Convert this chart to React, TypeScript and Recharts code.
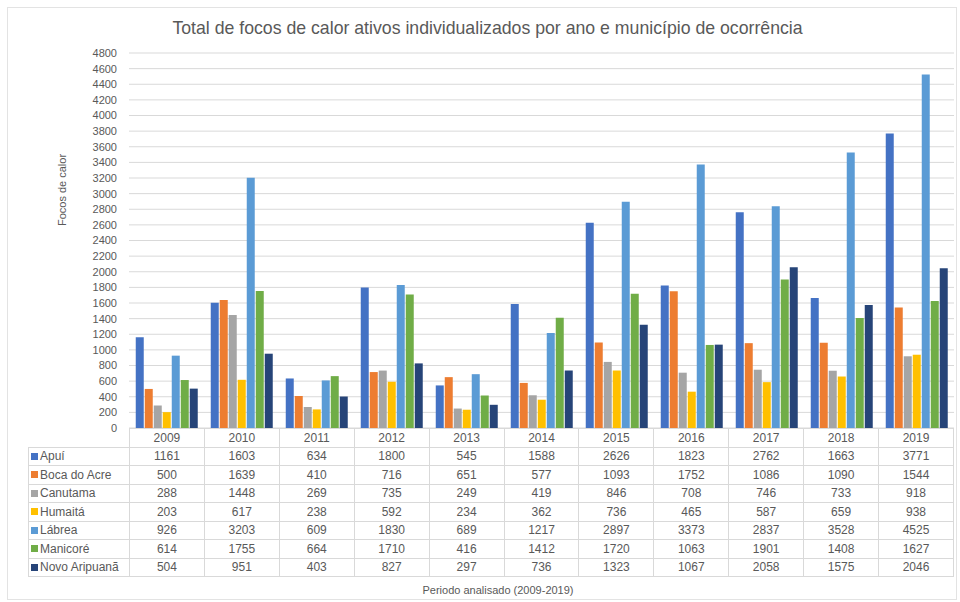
import React from "react";
import { BarChart, Bar, XAxis, YAxis, CartesianGrid } from "recharts";

const YEARS = ["2009", "2010", "2011", "2012", "2013", "2014", "2015", "2016", "2017", "2018", "2019"];

const APUI = [1161, 1603, 634, 1800, 545, 1588, 2626, 1823, 2762, 1663, 3771];
const BOCA_DO_ACRE = [500, 1639, 410, 716, 651, 577, 1093, 1752, 1086, 1090, 1544];
const CANUTAMA = [288, 1448, 269, 735, 249, 419, 846, 708, 746, 733, 918];
const HUMAITA = [203, 617, 238, 592, 234, 362, 736, 465, 587, 659, 938];
const LABREA = [926, 3203, 609, 1830, 689, 1217, 2897, 3373, 2837, 3528, 4525];
const MANICORE = [614, 1755, 664, 1710, 416, 1412, 1720, 1063, 1901, 1408, 1627];
const NOVO_ARIPUANA = [504, 951, 403, 827, 297, 736, 1323, 1067, 2058, 1575, 2046];

const Y_TICKS = Array.from({ length: 25 }, (_, i) => i * 200);

// series order matches the table rows
const SERIES = [
  { key: "apui", name: "Apuí", values: APUI, color: "#4472C4" },
  { key: "boca", name: "Boca do Acre", values: BOCA_DO_ACRE, color: "#ED7D31" },
  { key: "canutama", name: "Canutama", values: CANUTAMA, color: "#A5A5A5" },
  { key: "humaita", name: "Humaitá", values: HUMAITA, color: "#FFC000" },
  { key: "labrea", name: "Lábrea", values: LABREA, color: "#5B9BD5" },
  { key: "manicore", name: "Manicoré", values: MANICORE, color: "#70AD47" },
  { key: "novo", name: "Novo Aripuanã", values: NOVO_ARIPUANA, color: "#264478" },
];

const FONT = "'Liberation Sans', Arial, sans-serif";
const TEXT = "#595959";
const GRID = "#d9d9d9";

// plot geometry
const PLOT_LEFT = 129;
const PLOT_RIGHT = 954;
const PLOT_TOP = 53;
const PLOT_BOTTOM = 428;
const TABLE_LEFT = 28;

export default function App() {
  const data = YEARS.map((year, i) => {
    const row: Record<string, string | number> = { year };
    SERIES.forEach((s) => {
      row[s.key] = s.values[i];
    });
    return row;
  });

  const cell: React.CSSProperties = {
    border: `1px solid ${GRID}`,
    padding: 0,
    height: 18.5,
    boxSizing: "border-box",
    textAlign: "center",
  };

  return (
    <div style={{ position: "relative", width: 960, height: 602, background: "#fff", fontFamily: FONT, color: TEXT }}>
      <style>{"body{margin:0}"}</style>
      <div
        style={{
          position: "absolute",
          left: 7,
          top: 7,
          width: 950,
          height: 593,
          border: "1px solid #e3e3e3",
          boxSizing: "border-box",
        }}
      />
      <div style={{ position: "absolute", top: 18, left: 0, width: 975, textAlign: "center", fontSize: 17.7 }}>
        Total de focos de calor ativos individualizados por ano e município de ocorrência
      </div>
      <div
        style={{
          position: "absolute",
          left: 62,
          top: 190,
          transform: "translate(-50%, -50%) rotate(-90deg)",
          fontSize: 11,
          whiteSpace: "nowrap",
        }}
      >
        Focos de calor
      </div>

      <div style={{ position: "absolute", left: 0, top: 0 }}>
        <BarChart
          width={960}
          height={440}
          data={data}
          margin={{ top: PLOT_TOP, right: 960 - PLOT_RIGHT, left: PLOT_LEFT - 40, bottom: 440 - PLOT_BOTTOM }}
          barCategoryGap="9%"
          barGap={1}
        >
          <CartesianGrid vertical={false} stroke={GRID} />
          <XAxis dataKey="year" hide height={0} />
          <YAxis
            width={40}
            domain={[0, 4800]}
            ticks={Y_TICKS}
            interval={0}
            axisLine={false}
            tickLine={false}
            tick={{ fill: TEXT, fontSize: 11, fontFamily: FONT }}
            tickMargin={6}
          />
          {SERIES.map((s) => (
            <Bar key={s.key} dataKey={s.key} name={s.name} fill={s.color} isAnimationActive={false} />
          ))}
        </BarChart>
      </div>

      <table
        style={{
          position: "absolute",
          left: TABLE_LEFT,
          top: PLOT_BOTTOM,
          width: PLOT_RIGHT - TABLE_LEFT,
          borderCollapse: "collapse",
          fontSize: 12,
          fontFamily: FONT,
          color: TEXT,
          tableLayout: "fixed",
        }}
      >
        <colgroup>
          <col style={{ width: PLOT_LEFT - TABLE_LEFT }} />
          {YEARS.map((y) => (
            <col key={y} />
          ))}
        </colgroup>
        <tbody>
          <tr>
            <td style={{ padding: 0, border: "none", height: 18 }} />
            {YEARS.map((y) => (
              <td key={y} style={cell}>
                {y}
              </td>
            ))}
          </tr>
          {SERIES.map((s) => (
            <tr key={s.key}>
              <td style={{ ...cell, textAlign: "left", whiteSpace: "nowrap", paddingLeft: 2 }}>
                <span
                  style={{
                    display: "inline-block",
                    width: 7,
                    height: 7,
                    background: s.color,
                    marginRight: 2,
                    verticalAlign: "middle",
                    position: "relative",
                    top: -1,
                  }}
                />
                {s.name}
              </td>
              {s.values.map((v, i) => (
                <td key={i} style={cell}>
                  {v}
                </td>
              ))}
            </tr>
          ))}
        </tbody>
      </table>

      <div style={{ position: "absolute", top: 584, left: 0, width: 996, textAlign: "center", fontSize: 11 }}>
        Periodo analisado (2009-2019)
      </div>
    </div>
  );
}
